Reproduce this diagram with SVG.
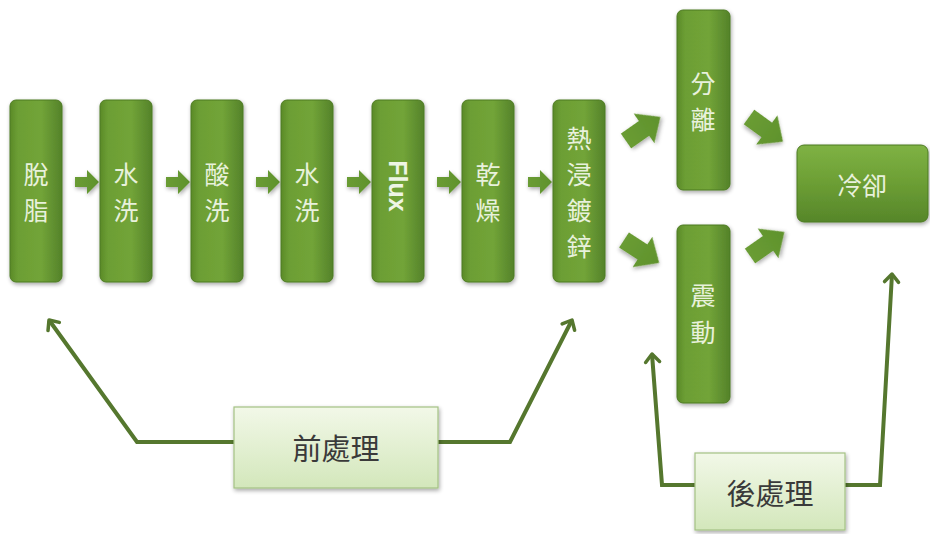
<svg xmlns="http://www.w3.org/2000/svg" width="930" height="534" viewBox="0 0 930 534">
<defs>
<linearGradient id="gbox" x1="0" y1="0" x2="1" y2="0">
<stop offset="0" stop-color="#5a8a28"/>
<stop offset="0.15" stop-color="#6c9e34"/>
<stop offset="0.6" stop-color="#72a438"/>
<stop offset="1" stop-color="#54822a"/>
</linearGradient>
<linearGradient id="gbox2" x1="0" y1="0" x2="0" y2="1">
<stop offset="0" stop-color="#7fb244"/>
<stop offset="0.5" stop-color="#6c9e34"/>
<stop offset="1" stop-color="#56862a"/>
</linearGradient>
<linearGradient id="glight" x1="0" y1="0" x2="0" y2="1">
<stop offset="0" stop-color="#f2f8e8"/>
<stop offset="1" stop-color="#d3e7bb"/>
</linearGradient>
<linearGradient id="garrow" x1="0" y1="0" x2="1" y2="0">
<stop offset="0" stop-color="#6a9c34"/>
<stop offset="1" stop-color="#5f922c"/>
</linearGradient>
<filter id="sh" x="-20%" y="-20%" width="140%" height="140%">
<feGaussianBlur in="SourceAlpha" stdDeviation="2"/>
<feOffset dx="1" dy="2" result="b"/>
<feComponentTransfer><feFuncA type="linear" slope="0.35"/></feComponentTransfer>
<feMerge><feMergeNode/><feMergeNode in="SourceGraphic"/></feMerge>
</filter>
<path id="sa" d="M0,-5 L12,-5 L12,-12 L24,0 L12,12 L12,5 L0,5 Z"/>
<path id="ba" d="M0,-9 L22,-9 L22,-18 L42,0 L22,18 L22,9 L0,9 Z"/>
<marker id="ah" viewBox="0 0 20 20" refX="12" refY="10" markerWidth="20" markerHeight="20" markerUnits="userSpaceOnUse" orient="auto">
<path d="M4,3 L12,10 L4,17" fill="none" stroke="#55772e" stroke-width="3.5" stroke-linecap="round" stroke-linejoin="round"/>
</marker>
</defs>
<style>
.box{fill:url(#gbox);stroke:#4d7a22;stroke-width:1;filter:url(#sh)}
.hbox{fill:url(#gbox2);stroke:#4d7a22;stroke-width:1;filter:url(#sh)}
.lbox{fill:url(#glight);stroke:#a4c184;stroke-width:1.2;filter:url(#sh)}
.t{font-family:"Noto Sans CJK TC","Noto Sans CJK JP",sans-serif;font-size:25px;fill:#e8f1dc;text-anchor:middle;dominant-baseline:central}
.tf{font-family:"Liberation Sans",Arial,sans-serif;font-size:25px;font-weight:bold;fill:#eef5e4;text-anchor:middle;dominant-baseline:central}
.tl{font-family:"Noto Sans CJK TC","Noto Sans CJK JP",sans-serif;font-size:29px;fill:#3a3a3a;text-anchor:middle;dominant-baseline:central}
.arr{fill:url(#garrow);filter:url(#sh)}
.ln{fill:none;stroke:#55772e;stroke-width:4;stroke-linejoin:miter}
</style>
<g id="connectors">
<use href="#sa" class="arr" x="75" y="182"/>
<use href="#sa" class="arr" x="166" y="182"/>
<use href="#sa" class="arr" x="256" y="182"/>
<use href="#sa" class="arr" x="347" y="182"/>
<use href="#sa" class="arr" x="437" y="182"/>
<use href="#sa" class="arr" x="528" y="182"/>
<use href="#ba" class="arr" transform="translate(626,141) rotate(-35)"/>
<use href="#ba" class="arr" transform="translate(624,240) rotate(33)"/>
<use href="#ba" class="arr" transform="translate(749,117) rotate(36)"/>
<use href="#ba" class="arr" transform="translate(750,256) rotate(-35)"/>
<polyline class="ln" points="234,442 137,442 49,320" marker-end="url(#ah)"/>
<polyline class="ln" points="438,442 510,442 572,320" marker-end="url(#ah)"/>
<polyline class="ln" points="695,485 662,485 652,354" marker-end="url(#ah)"/>
<polyline class="ln" points="845,485 880,485 892,274" marker-end="url(#ah)"/>
</g>
<g id="n1"><rect class="box" x="10" y="100" width="52" height="182" rx="6"/><text class="t" x="36" y="173">脫</text><text class="t" x="36" y="209">脂</text></g>
<g id="n2"><rect class="box" x="100" y="100" width="52" height="182" rx="6"/><text class="t" x="126" y="173">水</text><text class="t" x="126" y="209">洗</text></g>
<g id="n3"><rect class="box" x="191" y="100" width="52" height="182" rx="6"/><text class="t" x="217" y="173">酸</text><text class="t" x="217" y="209">洗</text></g>
<g id="n4"><rect class="box" x="281" y="100" width="52" height="182" rx="6"/><text class="t" x="307" y="173">水</text><text class="t" x="307" y="209">洗</text></g>
<g id="n5"><rect class="box" x="372" y="100" width="52" height="182" rx="6"/><text class="tf" transform="translate(398,186) rotate(90)">Flux</text></g>
<g id="n6"><rect class="box" x="462" y="100" width="52" height="182" rx="6"/><text class="t" x="488" y="173">乾</text><text class="t" x="488" y="209">燥</text></g>
<g id="n7"><rect class="box" x="553" y="100" width="52" height="182" rx="6"/><text class="t" x="579" y="137">熱</text><text class="t" x="579" y="173">浸</text><text class="t" x="579" y="209">鍍</text><text class="t" x="579" y="245">鋅</text></g>
<g id="n8"><rect class="box" x="677" y="10" width="53" height="180" rx="6"/><text class="t" x="703" y="82">分</text><text class="t" x="703" y="118">離</text></g>
<g id="n9"><rect class="box" x="677" y="225" width="53" height="178" rx="6"/><text class="t" x="703" y="294">震</text><text class="t" x="703" y="331">動</text></g>
<g id="n10"><rect class="hbox" x="797" y="145" width="131" height="77" rx="7"/><text class="t" x="862" y="184">冷卻</text></g>
<g id="n11"><rect class="lbox" x="234" y="407" width="204" height="81"/><text class="tl" x="336" y="447">前處理</text></g>
<g id="n12"><rect class="lbox" x="695" y="453" width="150" height="77"/><text class="tl" x="770" y="492">後處理</text></g>
</svg>
